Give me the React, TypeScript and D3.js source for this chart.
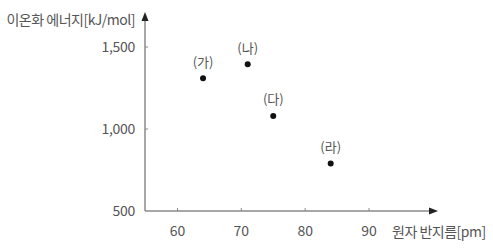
import React from "react";
import * as d3 from "d3";

const labels = ["(가)", "(나)", "(다)", "(라)"];
const radius = [64, 71, 75, 84];
const energy = [1310, 1395, 1080, 790];
const xTicks = [60, 70, 80, 90];
const yTicks = [500, 1000, 1500];
const xTitle = "원자 반지름[pm]";
const yTitle = "이온화 에너지[kJ/mol]";

const W = 493;
const H = 250;
const FONT = "'Noto Sans CJK KR', 'Noto Sans', sans-serif";

export default function App() {
  const x0 = 145;
  const y0 = 211;
  const x = d3.scaleLinear().domain([60, 90]).range([177.5, 369]);
  const y = d3.scaleLinear().domain([500, 1500]).range([211, 47]);
  const fmt = d3.format(",");
  const axisColor = "#8a8a8a";
  const textColor = "#555";

  return (
    <div style={{ position: "fixed", left: 0, top: 0, width: W, height: H, background: "#fff" }}>
      <svg width={W} height={H} style={{ display: "block" }}>
        <rect width={W} height={H} fill="#fff" />
        {/* axes */}
        <line x1={x0} y1={y0} x2={x0} y2={20} stroke={axisColor} strokeWidth={1.5} />
        <path d={`M${x0 - 3.5},${21} L${x0},${12} L${x0 + 3.5},${21} Z`} fill="#222" />
        <line x1={x0} y1={y0} x2={430} y2={y0} stroke={axisColor} strokeWidth={1.5} />
        <path d={`M${429},${y0 - 3.5} L${438},${y0} L${429},${y0 + 3.5} Z`} fill="#222" />
        {xTicks.map((t) => (
          <g key={"xt" + t}>
            <line x1={x(t)} x2={x(t)} y1={y0} y2={y0 - 3} stroke={axisColor} strokeWidth={1} />
            <text x={x(t)} y={y0 + 25} textAnchor="middle" fontFamily={FONT} fontSize={14} fill={textColor}>
              {t}
            </text>
          </g>
        ))}
        {yTicks.map((t) => (
          <g key={"yt" + t}>
            {t !== 500 && (
              <line x1={x0} x2={x0 + 3} y1={y(t)} y2={y(t)} stroke={axisColor} strokeWidth={1} />
            )}
            <text x={135} y={y(t) + 5} textAnchor="end" fontFamily={FONT} fontSize={14} fill={textColor} letterSpacing={-0.3}>
              {fmt(t)}
            </text>
          </g>
        ))}
        <text x={135} y={25} textAnchor="end" fontFamily={FONT} fontSize={14} fill={textColor} letterSpacing={-0.5}>
          {yTitle}
        </text>
        <text x={392} y={237} textAnchor="start" fontFamily={FONT} fontSize={14} fill={textColor} letterSpacing={-0.5}>
          {xTitle}
        </text>
        {/* points */}
        {radius.map((r, i) => (
          <g key={"p" + i}>
            <circle cx={x(r)} cy={y(energy[i])} r={3} fill="#111" />
            <text
              x={x(r)}
              y={y(energy[i]) - 11.5}
              textAnchor="middle"
              fontFamily={FONT}
              fontSize={13}
              fill={textColor}
            >
              {labels[i]}
            </text>
          </g>
        ))}
      </svg>
    </div>
  );
}
